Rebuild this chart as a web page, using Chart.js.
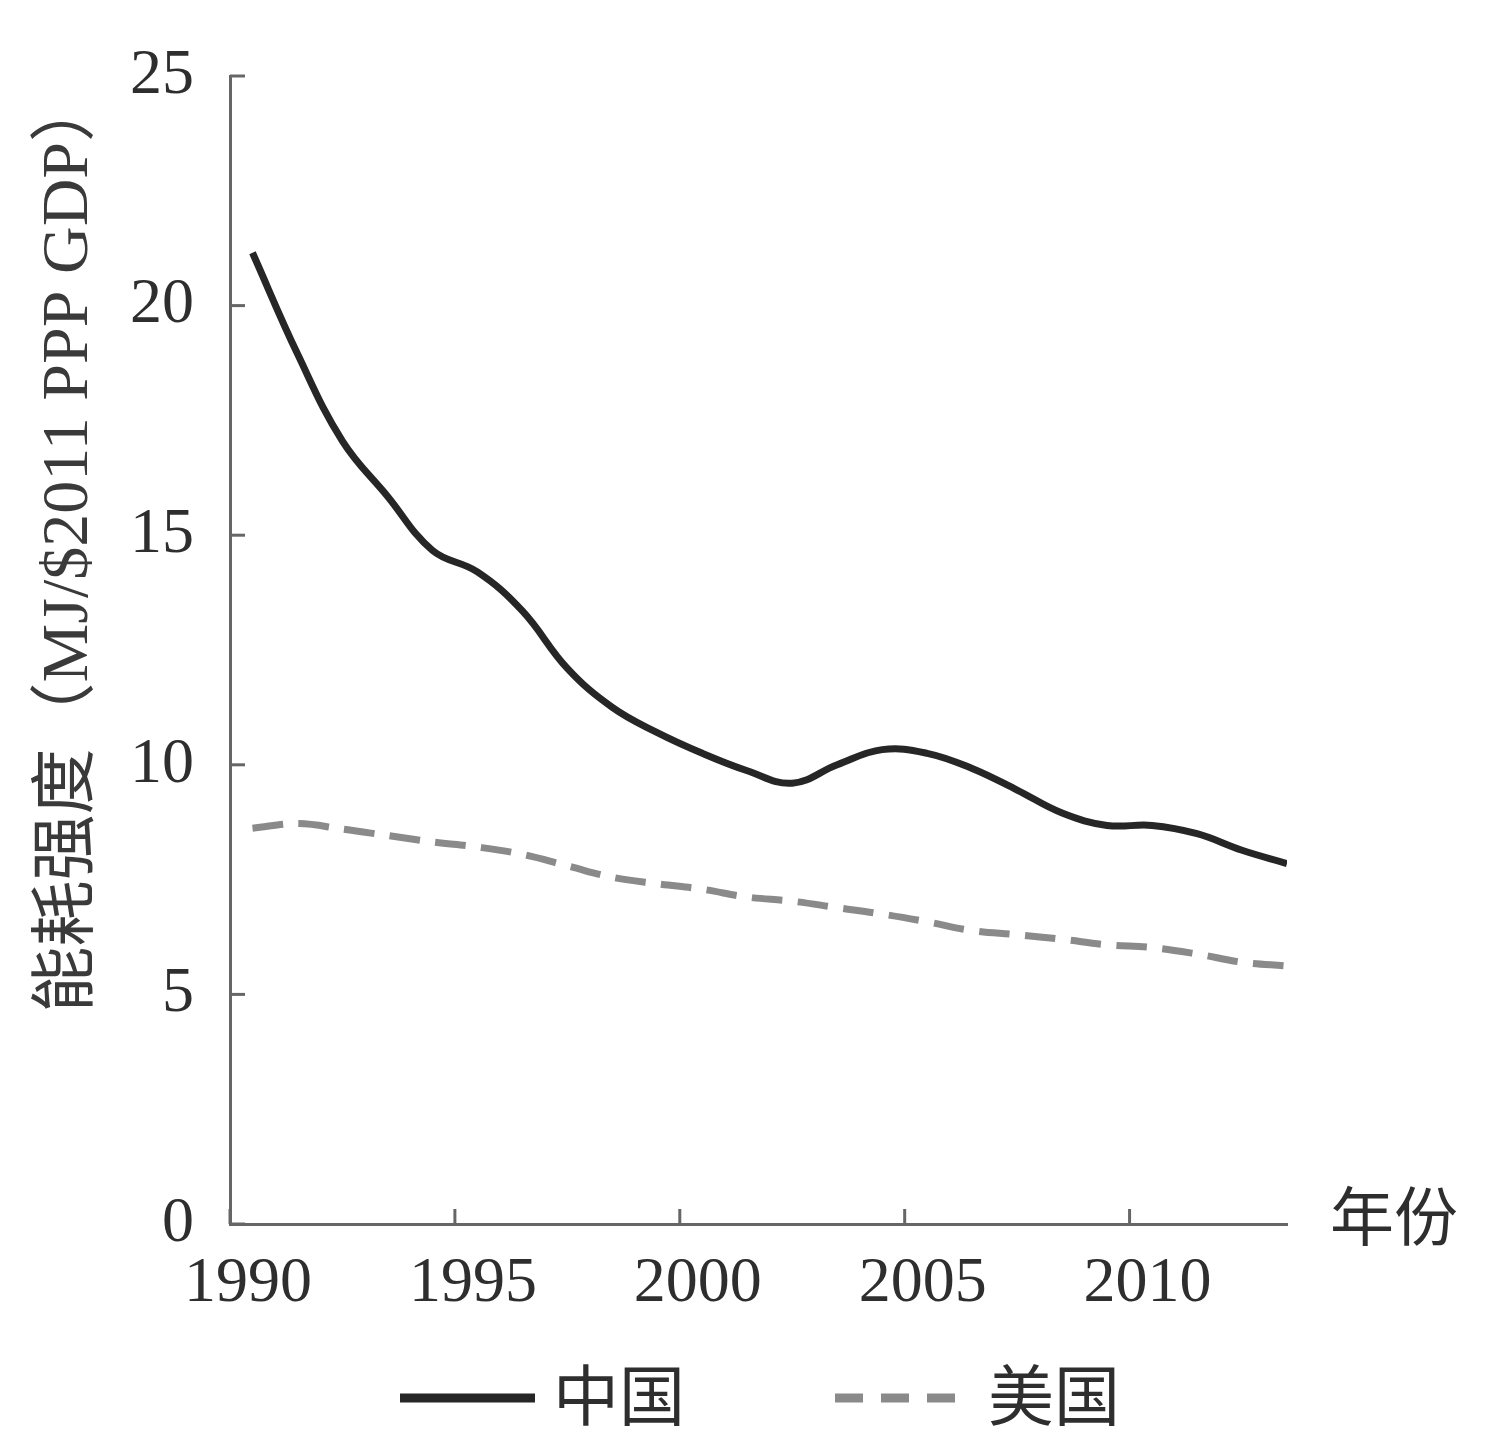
<!DOCTYPE html>
<html>
<head>
<meta charset="utf-8">
<script src="https://cdn.jsdelivr.net/npm/chart.js@4.4.1/dist/chart.umd.min.js"></script>
<style>
  html, body { margin: 0; padding: 0; background: #fff; }
  #wrap { width: 1491px; height: 1440px; }
</style>
</head>
<body>
<div id="wrap"><canvas id="chart"></canvas></div>
<script>
const years = [1990, 1991, 1992, 1993, 1994, 1995, 1996, 1997, 1998, 1999, 2000, 2001,
  2002, 2003, 2004, 2005, 2006, 2007, 2008, 2009, 2010, 2011, 2012, 2013];
const chinaValues = [21.15, 18.95, 17.05, 15.85, 14.67, 14.2, 13.35, 12.1, 11.25, 10.7, 10.25, 9.87,
  9.6, 10.0, 10.33, 10.25, 9.92, 9.45, 8.95, 8.68, 8.68, 8.5, 8.14, 7.85];
const usValues = [8.62, 8.72, 8.6, 8.46, 8.32, 8.21, 8.05, 7.8, 7.55, 7.41, 7.29, 7.12,
  7.03, 6.89, 6.75, 6.58, 6.39, 6.3, 6.2, 6.08, 6.02, 5.88, 5.7, 5.62];
const xTickLabels = [1990, 1995, 2000, 2005, 2010];
const yTickLabels = [0, 5, 10, 15, 20, 25];
const seriesNames = ['中国', '美国'];
const yTitle = '能耗强度（MJ/$2011 PPP GDP）';
const xTitle = '年份';

const axisColor = '#666';
const textColor = '#2e2e2e';
const serif = "'Liberation Serif', 'Noto Sans CJK SC', serif";
const cjk = "'Noto Sans CJK SC', sans-serif";

// yearly values sit in the middle of each year's slot
const toPoints = (values) => values.map((v, i) => ({ x: years[i] + 0.5, y: v }));

const innerTicks = {
  id: 'innerTicks',
  afterDraw(chart) {
    const { ctx, chartArea, scales } = chart;
    ctx.save();
    ctx.strokeStyle = axisColor;
    ctx.lineWidth = 3;
    scales.y.ticks.forEach((t) => {
      const y = scales.y.getPixelForValue(t.value);
      ctx.beginPath();
      ctx.moveTo(chartArea.left, y);
      ctx.lineTo(chartArea.left + 15, y);
      ctx.stroke();
    });
    scales.x.ticks.forEach((t) => {
      const x = scales.x.getPixelForValue(t.value);
      ctx.beginPath();
      ctx.moveTo(x, chartArea.bottom);
      ctx.lineTo(x, chartArea.bottom - 15);
      ctx.stroke();
    });
    ctx.font = `64px ${cjk}`;
    ctx.fillStyle = textColor;
    ctx.textBaseline = 'middle';
    ctx.fillText(xTitle, chartArea.right + 43, chartArea.bottom - 8);
    ctx.restore();
  }
};

const bottomLegend = {
  id: 'bottomLegend',
  afterDraw(chart) {
    const { ctx } = chart;
    const starts = [400, 835];
    const y = 1398;
    ctx.save();
    chart.data.datasets.forEach((ds, i) => {
      const x0 = starts[i];
      ctx.beginPath();
      ctx.strokeStyle = ds.borderColor;
      ctx.lineWidth = 9;
      ctx.setLineDash(ds.legendDash || []);
      ctx.moveTo(x0, y);
      ctx.lineTo(x0 + (ds.legendDash ? 122 : 135), y);
      ctx.stroke();
      ctx.setLineDash([]);
      ctx.font = `66px ${cjk}`;
      ctx.fillStyle = textColor;
      ctx.textBaseline = 'middle';
      ctx.fillText(ds.label, x0 + 153, y - 3);
    });
    ctx.restore();
  }
};

new Chart(document.getElementById('chart'), {
  type: 'line',
  data: {
    datasets: [
      {
        label: seriesNames[0],
        data: toPoints(chinaValues),
        borderColor: '#262626',
        borderWidth: 7,
        tension: 0.4,
        pointRadius: 0
      },
      {
        label: seriesNames[1],
        data: toPoints(usValues),
        borderColor: '#8a8a8a',
        borderWidth: 7,
        borderDash: [31, 15],
        legendDash: [28, 18],
        tension: 0.4,
        pointRadius: 0
      }
    ]
  },
  options: {
    responsive: true,
    maintainAspectRatio: false,
    animation: false,
    devicePixelRatio: 1,
    layout: { padding: { left: 30, top: 76, right: 204, bottom: 116 } },
    plugins: {
      legend: { display: false },
      tooltip: { enabled: false }
    },
    scales: {
      x: {
        type: 'linear',
        min: 1990,
        max: 2013.5,
        afterBuildTicks: (s) => { s.ticks = xTickLabels.map((v) => ({ value: v })); },
        afterFit: (s) => { s.height = 100; },
        grid: { display: false, drawTicks: false },
        border: { color: axisColor, width: 3 },
        ticks: {
          font: { family: serif, size: 64 },
          color: textColor,
          padding: 22,
          labelOffset: 18,
          maxRotation: 0,
          autoSkip: false,
          callback: (v) => String(v)
        }
      },
      y: {
        min: 0,
        max: 25,
        afterBuildTicks: (s) => { s.ticks = yTickLabels.map((v) => ({ value: v })); },
        afterFit: (s) => { s.width = 200; },
        grid: { display: false, drawTicks: false },
        border: { color: axisColor, width: 3 },
        ticks: {
          font: { family: serif, size: 64 },
          color: textColor,
          padding: 36,
          callback: (v) => String(v)
        },
        title: {
          display: true,
          text: yTitle,
          align: 'end',
          color: '#3a3a3a',
          padding: 0,
          font: { family: serif, size: 66 }
        }
      }
    }
  },
  plugins: [innerTicks, bottomLegend]
});
</script>
</body>
</html>
